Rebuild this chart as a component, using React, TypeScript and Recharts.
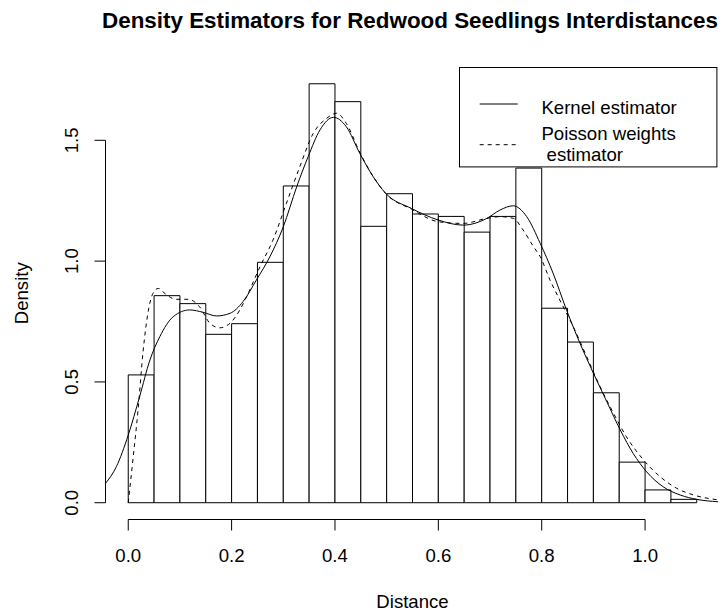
import React from 'react';
import {
  ComposedChart,
  Line,
  XAxis,
  YAxis,
  ReferenceArea,
  ReferenceLine,
  Legend,
  Label,
} from 'recharts';

// ---- Data ----
const BIN_EDGES = [
  0.0, 0.05, 0.1, 0.15, 0.2, 0.25, 0.3, 0.35, 0.4, 0.45, 0.5, 0.55,
  0.6, 0.65, 0.7, 0.75, 0.8, 0.85, 0.9, 0.95, 1.0, 1.05, 1.1,
];
const BIN_DENSITY = [
  0.529, 0.857, 0.824, 0.697, 0.741, 0.995, 1.311, 1.734, 1.66, 1.144, 1.279,
  1.195, 1.185, 1.12, 1.185, 1.385, 0.805, 0.665, 0.455, 0.168, 0.053, 0.014,
];

const KERNEL_X = [
  -0.044, -0.023, 0.0, 0.022, 0.042, 0.061, 0.087, 0.119, 0.145, 0.171, 0.197,
  0.222, 0.248, 0.274, 0.3, 0.326, 0.348, 0.371, 0.397, 0.422, 0.448, 0.474,
  0.498, 0.548, 0.6, 0.648, 0.694, 0.719, 0.745, 0.771, 0.797, 0.822, 0.848,
  0.874, 0.9, 0.926, 0.952, 0.977, 1.003, 1.035, 1.068, 1.1, 1.141,
];
const KERNEL_Y = [
  0.08, 0.149, 0.28, 0.439, 0.591, 0.687, 0.77, 0.798, 0.788, 0.773, 0.784,
  0.832, 0.922, 1.018, 1.142, 1.308, 1.432, 1.543, 1.595, 1.556, 1.446, 1.349,
  1.281, 1.218, 1.17, 1.149, 1.177, 1.211, 1.229, 1.184, 1.074, 0.95, 0.798,
  0.66, 0.536, 0.418, 0.301, 0.204, 0.128, 0.066, 0.032, 0.014, 0.004,
];

const POISSON_X = [
  0.0, 0.009, 0.019, 0.029, 0.038, 0.048, 0.058, 0.074, 0.093, 0.116, 0.138,
  0.158, 0.177, 0.197, 0.216, 0.229, 0.255, 0.28, 0.306, 0.332, 0.358, 0.384,
  0.403, 0.422, 0.448, 0.474, 0.498, 0.548, 0.6, 0.648, 0.694, 0.719, 0.745,
  0.764, 0.784, 0.797, 0.816, 0.835, 0.861, 0.887, 0.913, 0.939, 0.964, 0.997,
  1.029, 1.061, 1.094, 1.141,
];
const POISSON_Y = [
  0.0, 0.177, 0.384, 0.632, 0.784, 0.867, 0.887, 0.86, 0.842, 0.842, 0.811,
  0.743, 0.724, 0.743, 0.798, 0.853, 0.977, 1.087, 1.239, 1.391, 1.529, 1.591,
  1.612, 1.57, 1.45, 1.35, 1.28, 1.215, 1.163, 1.156, 1.177, 1.184, 1.177,
  1.129, 1.06, 1.019, 0.922, 0.839, 0.729, 0.605, 0.48, 0.37, 0.273, 0.177,
  0.108, 0.06, 0.032, 0.012,
];

const X_TICKS = [0.0, 0.2, 0.4, 0.6, 0.8, 1.0];
const Y_TICKS = [0.0, 0.5, 1.0, 1.5];

const TITLE = 'Density Estimators for Redwood Seedlings Interdistances';
const X_LABEL = 'Distance';
const Y_LABEL = 'Density';
const SERIES_NAMES = ['Kernel estimator', 'Poisson weights', ' estimator'];

// ---- Layout ----
const W = 713;
const H = 604;
const X_DOMAIN: [number, number] = [-0.044, 1.144];
const Y_DOMAIN: [number, number] = [-0.0694, 1.8034];
const FONT = '"Liberation Sans", Arial, Helvetica, sans-serif';
const FS = 18.6;

const kernelData = KERNEL_X.map((x, i) => ({ x, y: KERNEL_Y[i] }));
const poissonData = POISSON_X.map((x, i) => ({ x, y: POISSON_Y[i] }));

const XTick = (props: any) => {
  const { x, payload } = props;
  return (
    <text x={x} y={553.7} textAnchor="middle" fontFamily={FONT} fontSize={FS} fill="#000">
      {Number(payload.value).toFixed(1)}
    </text>
  );
};

const YTick = (props: any) => {
  const { y, payload } = props;
  const bx = 70.3;
  return (
    <text
      x={bx}
      y={y}
      textAnchor="middle"
      transform={`rotate(-90, ${bx}, ${y})`}
      fontFamily={FONT}
      fontSize={FS}
      fill="#000"
    >
      {Number(payload.value).toFixed(1)}
    </text>
  );
};

const LegendBox = () => {
  const w = 258.4;
  const h = 100.4;
  return (
    <svg width={w} height={h} style={{ display: 'block' }}>
      <rect x={0.5} y={0.5} width={w - 1} height={h - 1} fill="#fff" stroke="#000" strokeWidth={1} />
      <line x1={20.7} x2={58.7} y1={37} y2={37} stroke="#000" strokeWidth={1} />
      <text x={82.4} y={46.7} fontFamily={FONT} fontSize={FS} fill="#000">
        {SERIES_NAMES[0]}
      </text>
      <line x1={20.7} x2={58.7} y1={77.7} y2={77.7} stroke="#000" strokeWidth={1} strokeDasharray="4 4" />
      <text x={82.4} y={72.7} fontFamily={FONT} fontSize={FS} fill="#000">
        {SERIES_NAMES[1]}
      </text>
      <text x={82.4} y={94.4} fontFamily={FONT} fontSize={FS} fill="#000" style={{ whiteSpace: 'pre' }}>
        {SERIES_NAMES[2]}
      </text>
    </svg>
  );
};

export default function App() {
  return (
    <div style={{ position: 'absolute', left: 8, top: 8, width: W, height: H, background: '#fff' }}>
      <ComposedChart
        width={W}
        height={H}
        margin={{ top: 59, right: 1.5, left: 0, bottom: 0 }}
      >
        <XAxis
          type="number"
          dataKey="x"
          domain={X_DOMAIN}
          ticks={X_TICKS}
          axisLine={false}
          tickLine={{ stroke: '#000', strokeWidth: 1 }}
          tickSize={11}
          tick={<XTick />}
          height={92.5}
          interval={0}
        >
          <Label
            content={(p: any) => {
              const vb = p.viewBox || {};
              const cx = (vb.x ?? 97.5) + (vb.width ?? 614) / 2;
              return (
                <text x={cx} y={600.3} textAnchor="middle" fontFamily={FONT} fontSize={FS} fill="#000">
                  {X_LABEL}
                </text>
              );
            }}
          />
        </XAxis>
        <YAxis
          type="number"
          domain={Y_DOMAIN}
          ticks={Y_TICKS}
          axisLine={false}
          tickLine={{ stroke: '#000', strokeWidth: 1 }}
          tickSize={11}
          tick={<YTick />}
          width={97.5}
          interval={0}
        >
          <Label
            content={(p: any) => {
              const vb = p.viewBox || {};
              const cy = (vb.y ?? 59) + (vb.height ?? 452.5) / 2;
              return (
                <text
                  x={20.3}
                  y={cy}
                  textAnchor="middle"
                  transform={`rotate(-90, 20.3, ${cy})`}
                  fontFamily={FONT}
                  fontSize={FS}
                  fill="#000"
                >
                  {Y_LABEL}
                </text>
              );
            }}
          />
        </YAxis>

        {BIN_DENSITY.map((d, i) => (
          <ReferenceArea
            key={`bin-${i}`}
            x1={BIN_EDGES[i]}
            x2={BIN_EDGES[i + 1]}
            y1={0}
            y2={d}
            fill="#fff"
            fillOpacity={1}
            stroke="#000"
            strokeWidth={1}
            ifOverflow="visible"
          />
        ))}

        <ReferenceLine
          key="yaxis"
          segment={[{ x: X_DOMAIN[0], y: Y_TICKS[0] }, { x: X_DOMAIN[0], y: Y_TICKS[Y_TICKS.length - 1] }]}
          stroke="#000"
          strokeWidth={1}
          ifOverflow="visible"
        />
        <ReferenceLine
          key="xaxis"
          segment={[{ x: X_TICKS[0], y: Y_DOMAIN[0] }, { x: X_TICKS[X_TICKS.length - 1], y: Y_DOMAIN[0] }]}
          stroke="#000"
          strokeWidth={1}
          ifOverflow="visible"
        />

        <Line
          data={kernelData}
          dataKey="y"
          type="monotone"
          stroke="#000"
          strokeWidth={1}
          dot={false}
          activeDot={false}
          isAnimationActive={false}
          name="Kernel estimator"
        />
        <Line
          data={poissonData}
          dataKey="y"
          type="monotone"
          stroke="#000"
          strokeWidth={1}
          strokeDasharray="4 4"
          dot={false}
          activeDot={false}
          isAnimationActive={false}
          name="Poisson weights estimator"
        />

        <Legend
          layout="vertical"
          align="center"
          verticalAlign="middle"
          content={() => <LegendBox />}
          wrapperStyle={{ position: 'absolute', left: 451.3, top: 59.3, width: 258.4, height: 100.4, margin: 0, padding: 0 }}
        />
      </ComposedChart>
      <svg
        width={713}
        height={40}
        style={{ position: 'absolute', left: 0, top: 0, pointerEvents: 'none', overflow: 'visible' }}
      >
        <text
          x={402}
          y={19.5}
          textAnchor="middle"
          fontFamily={FONT}
          fontSize={22.4}
          fontWeight="bold"
          fill="#000"
        >
          {TITLE}
        </text>
      </svg>
    </div>
  );
}
